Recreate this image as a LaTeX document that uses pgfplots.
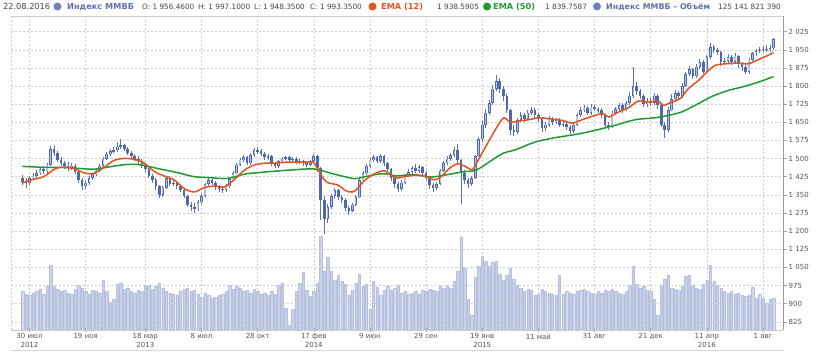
\documentclass[border=0pt]{standalone}
\usepackage{fontspec}
\setmainfont{DejaVu Sans}
\usepackage{pgfplots}
\usepackage{pgfplotstable}
\pgfplotsset{compat=1.18}

\definecolor{candleline}{HTML}{4F68AD}
\definecolor{candlewick}{HTML}{5A71B3}
\definecolor{candleup}{HTML}{B4C1E6}
\definecolor{volfill}{HTML}{CAD2E9}
\definecolor{voledge}{HTML}{B6C1E0}
\definecolor{emafast}{HTML}{E2531E}
\definecolor{emaslow}{HTML}{1E9A33}
\definecolor{gridc}{HTML}{CCCCCC}
\definecolor{ticktext}{HTML}{555555}
\definecolor{idxblue}{HTML}{5B70B0}
\definecolor{dotblue}{HTML}{6C80C0}
\definecolor{valtext}{HTML}{444444}

% weekly candles: week index (0 = 30.07.2012), open, high, low, close, volume (bn RUB)
\pgfplotstableread{
w o h l c v
-2 1420 1432 1392 1405 150
-1 1405 1418 1380 1398 140
0 1398 1428 1390 1420 135
1 1420 1441 1410 1430 145
2 1430 1452 1421 1440 150
3 1440 1466 1432 1455 160
4 1455 1470 1437 1448 140
5 1448 1483 1440 1475 170
6 1475 1552 1470 1540 255
7 1540 1558 1512 1525 170
8 1525 1532 1485 1495 160
9 1495 1505 1468 1480 150
10 1480 1492 1458 1470 155
11 1470 1484 1450 1462 145
12 1462 1481 1452 1470 140
13 1470 1476 1435 1445 160
14 1445 1450 1400 1410 175
15 1410 1418 1372 1385 165
16 1385 1410 1375 1400 150
17 1400 1428 1392 1420 140
18 1420 1442 1410 1435 155
19 1435 1458 1428 1450 150
20 1450 1478 1444 1470 145
21 1470 1506 1462 1500 195
22 1500 1528 1494 1520 150
23 1520 1540 1512 1530 110
24 1530 1548 1522 1535 120
25 1535 1568 1528 1550 180
26 1550 1582 1540 1555 185
27 1555 1562 1530 1540 160
28 1540 1548 1515 1525 165
29 1525 1532 1500 1510 150
30 1510 1520 1490 1500 145
31 1500 1512 1478 1490 155
32 1490 1498 1462 1475 150
33 1475 1482 1445 1455 170
34 1455 1462 1418 1430 175
35 1430 1438 1398 1410 160
36 1410 1418 1372 1385 170
37 1385 1392 1335 1350 185
38 1350 1388 1342 1380 165
39 1380 1428 1375 1420 150
40 1420 1430 1385 1395 145
41 1395 1412 1386 1400 140
42 1400 1408 1376 1385 135
43 1385 1392 1360 1370 150
44 1370 1378 1335 1345 160
45 1345 1350 1298 1310 165
46 1310 1322 1285 1300 150
47 1300 1315 1276 1290 155
48 1290 1328 1282 1320 140
49 1320 1352 1312 1345 130
50 1345 1400 1340 1395 145
51 1395 1420 1388 1410 135
52 1410 1418 1390 1400 125
53 1400 1406 1372 1385 130
54 1385 1392 1362 1375 135
55 1375 1385 1358 1370 140
56 1370 1393 1362 1385 150
57 1385 1422 1380 1415 175
58 1415 1448 1410 1440 160
59 1440 1482 1435 1475 170
60 1475 1502 1468 1495 165
61 1495 1515 1486 1505 150
62 1505 1510 1472 1480 155
63 1480 1522 1475 1515 145
64 1515 1545 1508 1535 160
65 1535 1548 1520 1530 150
66 1530 1538 1510 1520 140
67 1520 1526 1495 1505 145
68 1505 1520 1496 1510 135
69 1510 1514 1470 1480 150
70 1480 1488 1460 1470 140
71 1470 1496 1462 1490 175
72 1490 1508 1482 1500 184
73 1500 1512 1494 1505 86
74 1505 1510 1486 1495 20
75 1495 1508 1488 1500 82
76 1500 1505 1476 1485 152
77 1485 1497 1478 1490 184
78 1490 1495 1468 1480 227
79 1480 1488 1465 1475 156
80 1475 1496 1468 1490 133
81 1490 1518 1484 1510 152
82 1510 1515 1445 1460 184
83 1460 1465 1245 1330 368
84 1330 1345 1188 1250 231
85 1250 1312 1232 1300 285
86 1300 1352 1290 1345 231
87 1345 1378 1332 1370 196
88 1370 1376 1328 1340 215
89 1340 1350 1318 1330 192
90 1330 1338 1282 1295 180
91 1295 1302 1268 1285 137
92 1285 1318 1278 1310 156
93 1310 1348 1305 1340 184
94 1340 1416 1335 1410 219
95 1410 1448 1402 1440 172
96 1440 1478 1432 1470 180
97 1470 1502 1462 1495 82
98 1495 1515 1485 1505 192
99 1505 1512 1480 1490 168
100 1490 1520 1482 1510 137
101 1510 1516 1470 1480 156
102 1480 1486 1445 1455 172
103 1455 1460 1408 1420 156
104 1420 1428 1378 1395 164
105 1395 1402 1360 1375 176
106 1375 1410 1368 1400 145
107 1400 1438 1395 1430 150
108 1430 1455 1422 1445 140
109 1445 1470 1438 1460 145
110 1460 1478 1440 1450 150
111 1450 1472 1442 1465 140
112 1465 1470 1430 1440 155
113 1440 1448 1410 1420 150
114 1420 1425 1375 1390 160
115 1390 1398 1362 1380 155
116 1380 1405 1370 1395 150
117 1395 1456 1390 1450 170
118 1450 1490 1445 1480 165
119 1480 1510 1472 1500 175
120 1500 1525 1490 1515 165
121 1515 1550 1505 1535 190
122 1535 1560 1480 1495 230
123 1495 1500 1314 1440 365
124 1440 1452 1395 1410 240
125 1410 1420 1380 1395 120
126 1395 1428 1385 1420 60
127 1420 1515 1415 1510 205
128 1510 1590 1505 1580 250
129 1580 1655 1570 1640 290
130 1640 1705 1625 1690 270
131 1690 1742 1680 1730 250
132 1730 1805 1722 1790 265
133 1790 1844 1780 1820 270
134 1820 1832 1770 1790 220
135 1790 1800 1740 1760 195
136 1760 1768 1690 1700 215
137 1700 1705 1598 1620 240
138 1620 1640 1592 1610 200
139 1610 1670 1602 1660 175
140 1660 1692 1650 1680 165
141 1680 1690 1652 1665 150
142 1665 1700 1658 1690 160
143 1690 1712 1680 1700 155
144 1700 1708 1668 1680 135
145 1680 1690 1650 1665 140
146 1665 1672 1612 1625 160
147 1625 1650 1615 1640 150
148 1640 1675 1632 1665 145
149 1665 1672 1640 1650 140
150 1650 1670 1642 1660 135
151 1660 1666 1630 1640 215
152 1640 1655 1632 1645 140
153 1645 1652 1618 1630 150
154 1630 1638 1603 1615 145
155 1615 1648 1608 1640 140
156 1640 1688 1635 1680 150
157 1680 1712 1672 1700 155
158 1700 1722 1692 1710 160
159 1710 1718 1680 1690 150
160 1690 1725 1682 1715 145
161 1715 1722 1695 1705 140
162 1705 1715 1690 1700 150
163 1700 1708 1668 1680 145
164 1680 1686 1628 1640 155
165 1640 1650 1618 1630 150
166 1630 1698 1625 1690 160
167 1690 1715 1682 1705 150
168 1705 1730 1696 1720 145
169 1720 1728 1690 1700 140
170 1700 1740 1695 1730 150
171 1730 1775 1722 1760 175
172 1760 1878 1752 1800 250
173 1800 1815 1765 1780 180
174 1780 1790 1745 1760 165
175 1760 1768 1712 1725 170
176 1725 1752 1715 1740 155
177 1740 1750 1718 1730 150
178 1730 1770 1722 1760 120
179 1760 1766 1705 1720 60
180 1720 1725 1630 1640 175
181 1640 1650 1585 1620 200
182 1620 1712 1612 1700 215
183 1700 1768 1695 1745 165
184 1745 1782 1736 1770 160
185 1770 1778 1748 1760 155
186 1760 1812 1752 1800 170
187 1800 1858 1795 1850 210
188 1850 1882 1840 1870 215
189 1870 1876 1828 1840 175
190 1840 1890 1832 1880 165
191 1880 1912 1870 1900 160
192 1900 1906 1850 1860 180
193 1860 1928 1855 1920 195
194 1920 1978 1912 1960 255
195 1960 1972 1938 1950 190
196 1950 1958 1928 1940 175
197 1940 1946 1885 1900 165
198 1900 1918 1890 1905 150
199 1905 1932 1896 1920 145
200 1920 1928 1888 1900 150
201 1900 1936 1892 1925 140
202 1925 1930 1875 1890 145
203 1890 1898 1862 1880 137
204 1880 1888 1848 1860 133
205 1860 1918 1852 1910 137
206 1910 1942 1902 1935 168
207 1935 1955 1926 1945 125
208 1945 1962 1936 1950 141
209 1950 1965 1940 1955 125
210 1955 1968 1940 1950 105
211 1950 1970 1942 1956.46 121
212 1956.46 1997.10 1948.35 1993.35 125.14
}\ohlc

\begin{document}
\begin{tikzpicture}
\path[use as bounding box] (-11pt,-22pt) rectangle (813pt,330pt);

% volume panel (own scale, hidden)
\begin{axis}[at={(0pt,0pt)}, anchor=south west, scale only axis,
  width=772pt, height=314pt, xmin=-5.27, xmax=214.7, ymin=0, ymax=1228,
  hide axis]
\addplot[ybar, bar width=2.4pt, bar shift=0pt, fill=volfill, draw=voledge, line width=0.3pt]
  table[x=w, y=v] {\ohlc};
\end{axis}

% price panel
\begin{axis}[at={(0pt,0pt)}, anchor=south west, scale only axis,
  width=772pt, height=314pt, xmin=-5.27, xmax=214.7, ymin=791, ymax=2090,
  axis x line*=bottom, axis y line*=right,
  x axis line style={draw=gridc, -}, y axis line style={draw=gray!80, -},
  xtick={0,16,33,49,65,81,97,113,129,145,161,177,193,209},
  xticklabels={{30 июл\\2012},{19 ноя},{18 мар\\2013},{8 июл},{28 окт},{17 фев\\2014},{9 июн},{29 сен},{19 янв\\2015},{11 май},{31 авг},{21 дек},{11 апр\\2016},{1 авг}},
  ytick={825,900,975,1050,1125,1200,1275,1350,1425,1500,1575,1650,1725,1800,1875,1950,2025},
  yticklabels={825,900,975,1 050,1 125,1 200,1 275,1 350,1 425,1 500,1 575,1 650,1 725,1 800,1 875,1 950,2 025},
  xtick align=center, ytick align=outside, major tick length=4pt,
  tick style={draw=gray!70, line width=0.5pt},
  xticklabel style={align=center, font=\fontsize{7}{9}\selectfont, text=ticktext, inner sep=1.5pt},
  yticklabel style={font=\fontsize{7}{8}\selectfont, text=ticktext, inner sep=1.5pt},
  grid=major, major grid style={draw=gridc, dash pattern=on 2pt off 2pt, line width=0.5pt}]

\draw[gridc, dash pattern=on 2pt off 2pt] (rel axis cs:0,0) -- (rel axis cs:0,1);
\draw[gridc] (rel axis cs:0,1) -- (rel axis cs:1,1);

% wicks
\addplot[draw=none, mark=none, forget plot, error bars/.cd, y dir=both, y explicit, error mark=none,
  error bar style={draw=candlewick, line width=0.8pt}]
  table[x=w, y expr={(\thisrow{h}+\thisrow{l})/2}, y error expr={(\thisrow{h}-\thisrow{l})/2}] {\ohlc};
% bodies
\addplot[draw=none, mark=none, forget plot, error bars/.cd, y dir=both, y explicit, error mark=none,
  error bar style={draw=candleline, line width=2.6pt}]
  table[x=w, y expr={(\thisrow{o}+\thisrow{c})/2}, y error expr={abs(\thisrow{c}-\thisrow{o})/2}] {\ohlc};
% hollow interior of rising candles
\addplot[draw=none, mark=none, forget plot, error bars/.cd, y dir=both, y explicit, error mark=none,
  error bar style={draw=candleup, line width=1.2pt}]
  table[x=w, y expr={(\thisrow{o}+\thisrow{c})/2}, y error expr={max((\thisrow{c}-\thisrow{o})/2-2.5,0)}] {\ohlc};

% EMA (50)
\addplot[emaslow, line width=1.5pt, smooth, tension=0.5] coordinates {
(-2,1468)(4,1464)(9,1464)(13.6,1460)(18.4,1456)(23.2,1467)(28,1476)(31.7,1474)
(37.5,1456)(42.2,1442)(47,1425)(51.8,1421)(56.5,1418)(61.3,1436)(66,1443)(70.8,1449)
(75.6,1454)(80.4,1458)(82.7,1453)(86,1439)(89.9,1425)(92.8,1417)(95.6,1425)(99.4,1436)
(102.3,1436)(104.5,1428)(109.2,1434)(114,1424)(116.8,1428)(123.4,1445)(127.2,1452)
(131,1486)(134.8,1521)(138.5,1537)(144.2,1569)(149.9,1587)(155.6,1600)(161.2,1617)
(166.9,1638)(172.6,1661)(178.3,1669)(182.1,1679)(185.8,1693)(189.6,1720)(194.4,1757)
(199.1,1782)(203.8,1799)(208.6,1821)(212,1839.76)};

% EMA (12)
\addplot[emafast, line width=1.5pt, smooth, tension=0.5] coordinates {
(-2,1399)(0.3,1411)(4,1425)(7,1456)(9,1464)(11.7,1462)(13.6,1453)(16,1439)(18.4,1439)
(21.3,1464)(24,1492)(27,1501)(29.8,1497)(32.7,1481)(35.6,1446)(38.4,1428)(41.3,1411)
(44.1,1376)(47,1362)(49.9,1381)(52.7,1386)(55.6,1383)(58.4,1414)(61.3,1453)(64.2,1474)
(67,1481)(69.9,1481)(72.7,1485)(75.6,1485)(78.5,1485)(80.8,1485)(82.3,1453)(83.7,1418)
(85.1,1400)(88,1390)(89.9,1369)(91.3,1362)(92.8,1367)(95.6,1411)(98.5,1439)(101.3,1449)
(104.3,1420)(107.3,1427)(110.2,1431)(113,1427)(115.5,1412)(117.5,1428)(119.6,1459)
(122,1479)(124.4,1466)(126.2,1455)(128.1,1500)(131,1576)(133.8,1645)(135.2,1669)
(137.1,1651)(139.5,1656)(142.3,1661)(145.2,1669)(148,1665)(151.8,1658)(154.6,1647)
(157.5,1661)(161.2,1679)(163.6,1686)(165,1672)(167.9,1693)(170.7,1711)(173.5,1738)
(176.4,1734)(179.2,1738)(180.6,1720)(183,1734)(185.4,1748)(187.7,1789)(190.6,1823)
(193,1858)(195.3,1885)(198.1,1892)(201.9,1895)(204.8,1892)(207.6,1909)(210.4,1927)
(212,1938.59)};
\end{axis}

% bottom separator
\draw[gray!30] (-1pt,-20.5pt) -- (772pt,-20.5pt);

% header line
\begin{scope}[every node/.style={inner sep=0pt, anchor=base west, font=\fontsize{7.3}{9}\selectfont}]
\node[text=valtext, font=\fontsize{8.2}{10}\selectfont] at (-8pt,320.5pt) {22.08.2016};
\fill[dotblue] (46.5pt,323.5pt) circle (4pt);
\node[text=idxblue, font=\fontsize{8.2}{10}\selectfont\bfseries] at (56pt,320.5pt) {Индекс ММВБ};
\node[text=valtext] at (131pt,320.5pt) {O: 1 956.4600};
\node[text=valtext] at (187pt,320.5pt) {H: 1 997.1000};
\node[text=valtext] at (243pt,320.5pt) {L: 1 948.3500};
\node[text=valtext] at (299pt,320.5pt) {C: 1 993.3500};
\fill[emafast] (361.5pt,323.5pt) circle (4pt);
\node[text=emafast, font=\fontsize{8.2}{10}\selectfont\bfseries] at (370pt,320.5pt) {EMA (12)};
\node[text=valtext] at (426pt,320.5pt) {1 938.5905};
\fill[emaslow] (476pt,323.5pt) circle (4pt);
\node[text=emaslow, font=\fontsize{8.2}{10}\selectfont\bfseries] at (482pt,320.5pt) {EMA (50)};
\node[text=valtext] at (534pt,320.5pt) {1 839.7587};
\fill[dotblue] (586pt,323.5pt) circle (4pt);
\node[text=idxblue, font=\fontsize{7.9}{10}\selectfont\bfseries] at (595pt,320.5pt) {Индекс ММВБ – Объём};
\node[text=valtext] at (707pt,320.5pt) {125 141 821 390};
\end{scope}
\end{tikzpicture}
\end{document}
